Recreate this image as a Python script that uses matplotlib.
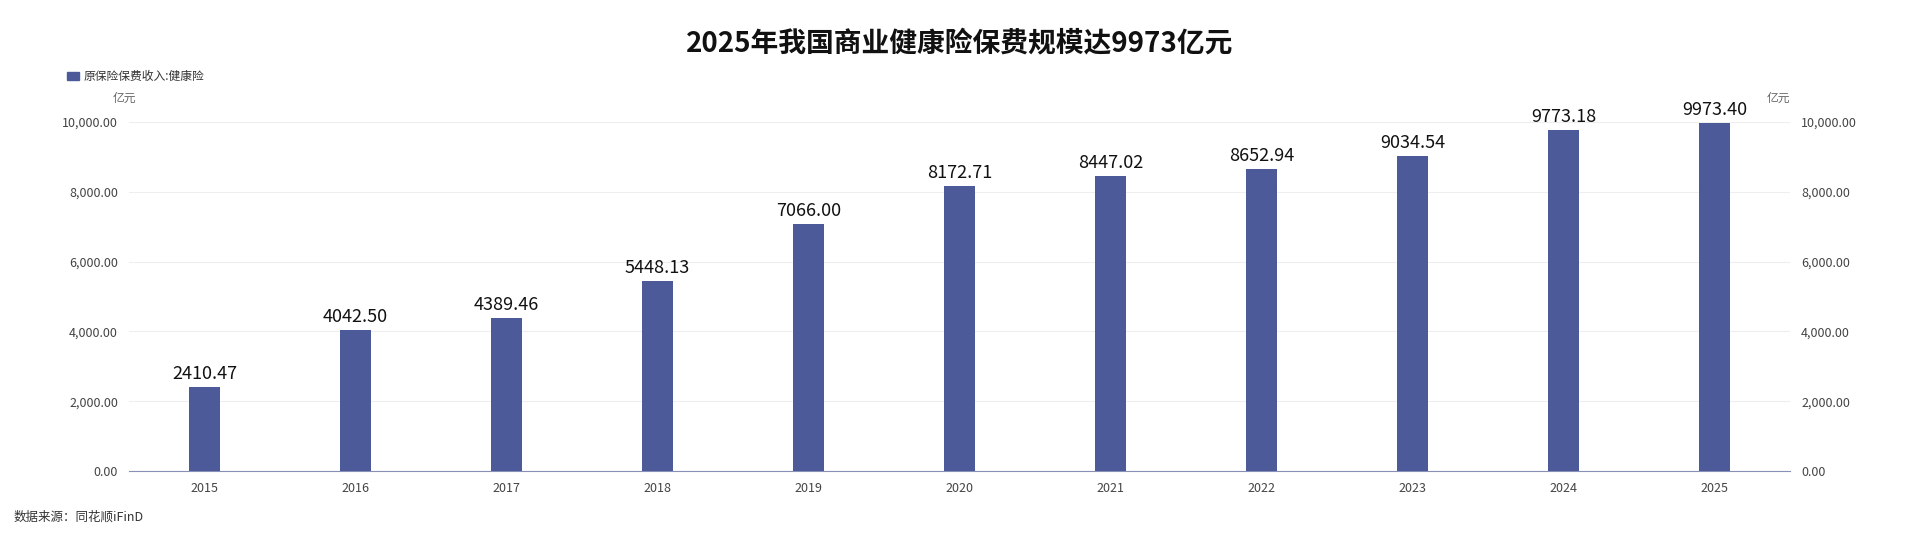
import matplotlib
matplotlib.use('Agg')
import matplotlib.pyplot as plt
from matplotlib.ticker import FuncFormatter

plt.rcParams['font.family'] = ['Noto Sans CJK SC', 'DejaVu Sans']

years = ['2015', '2016', '2017', '2018', '2019', '2020', '2021', '2022', '2023', '2024', '2025']
premium = [2410.47, 4042.50, 4389.46, 5448.13, 7066.00, 8172.71, 8447.02, 8652.94, 9034.54, 9773.18, 9973.40]
yticks = [0, 2000, 4000, 6000, 8000, 10000]

W, H = 1920, 541
fig = plt.figure(figsize=(W / 100, H / 100), dpi=100)
ax = fig.add_axes([129 / W, 1 - 471 / H, (1790 - 129) / W, (471 - 122) / H])

x = range(len(years))
bar_color = '#4c5a9a'
ax.bar(x, premium, width=0.2, color=bar_color, zorder=3)
for i, v in enumerate(premium):
    ax.text(i, v + 120, f'{v:.2f}', ha='center', va='bottom', fontsize=13, color='#111111')

ax.set_xlim(-0.5, len(years) - 0.5)
ax.set_ylim(0, 10000)
ax.set_yticks(yticks)
fmt = FuncFormatter(lambda v, p: f'{v:,.2f}')
ax.yaxis.set_major_formatter(fmt)
ax.set_xticks(list(x))
ax.set_xticklabels(years)
ax.grid(axis='y', color='#eeeeee', lw=0.8, zorder=0)
for s in ['top', 'left', 'right']:
    ax.spines[s].set_visible(False)
ax.spines['bottom'].set_color('#8890b8')
ax.tick_params(axis='both', length=0, labelsize=9, colors='#444444', pad=8)

ax2 = ax.twinx()
ax2.set_ylim(0, 10000)
ax2.set_yticks(yticks)
ax2.yaxis.set_major_formatter(fmt)
for s in ['top', 'left', 'right', 'bottom']:
    ax2.spines[s].set_visible(False)
ax2.tick_params(axis='y', length=0, labelsize=9, colors='#444444', pad=8)

fig.text(0.5, 1 - 43 / H, '2025年我国商业健康险保费规模达9973亿元', ha='center', va='center',
         fontsize=20, fontweight='bold', color='#111111')
fig.patches.append(plt.Rectangle((67 / W, 1 - 80 / H), 12 / W, 8 / H, transform=fig.transFigure,
                                 color=bar_color))
fig.text(84 / W, 1 - 76 / H, '原保险保费收入:健康险', ha='left', va='center', fontsize=8.5, color='#333333')
fig.text(113 / W, 1 - 98 / H, '亿元', ha='left', va='center', fontsize=8.5, color='#666666')
fig.text(1767 / W, 1 - 98 / H, '亿元', ha='left', va='center', fontsize=8.5, color='#666666')
fig.text(14 / W, 1 - 517 / H, '数据来源：同花顺iFinD', ha='left', va='center', fontsize=9, color='#333333')

fig.savefig('out.png', dpi=100, facecolor='white')
